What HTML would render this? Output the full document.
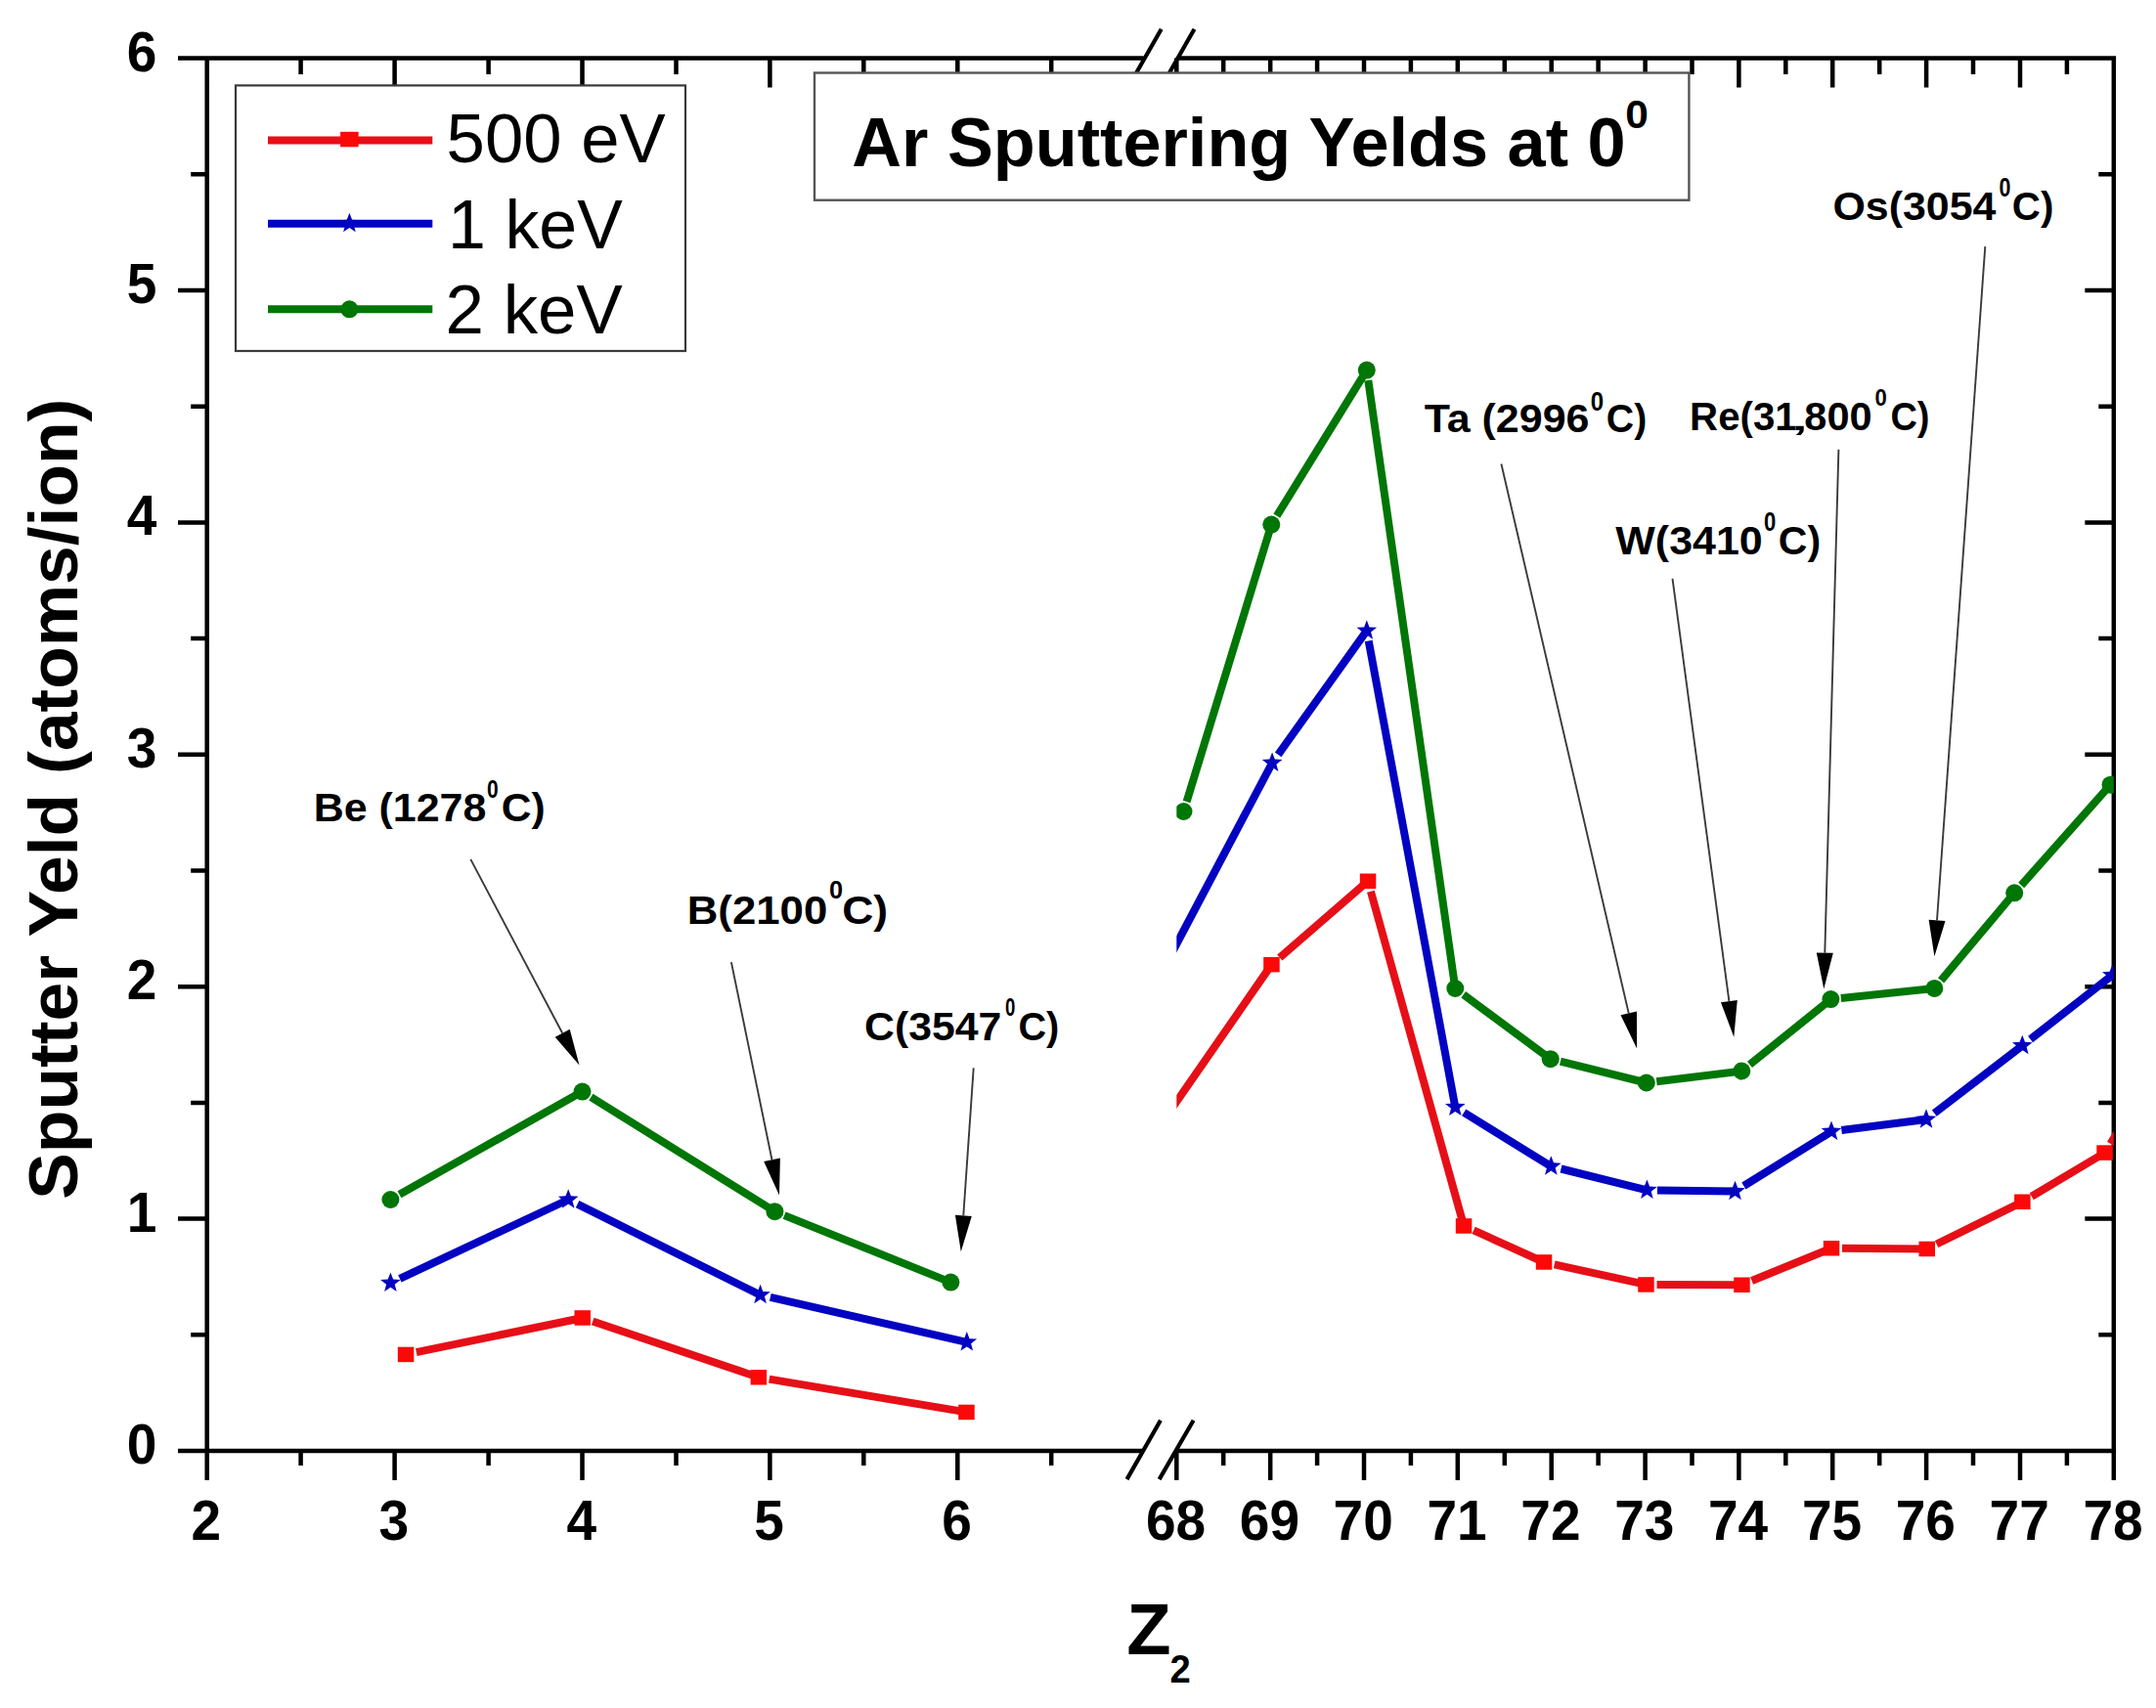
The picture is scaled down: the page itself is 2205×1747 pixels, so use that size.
<!DOCTYPE html><html><head><meta charset="utf-8"><title>Ar Sputtering Yields</title><style>html,body{margin:0;padding:0;background:#fff;overflow:hidden;}svg{display:block;}text{font-family:'Liberation Sans', Arial, sans-serif;}</style></head><body>
<svg width="2205" height="1747" viewBox="0 0 2205 1747">
<rect x="0" y="0" width="2205" height="1747" fill="#fff"/>
<path d="M182.0 1484.0H211.7 M2161.8 1484.0H2132.3 M195.2 1365.3H211.7 M2161.8 1365.3H2146.3 M182.0 1246.6H211.7 M2161.8 1246.6H2132.3 M195.2 1127.9H211.7 M2161.8 1127.9H2146.3 M182.0 1009.2H211.7 M2161.8 1009.2H2132.3 M195.2 890.5H211.7 M2161.8 890.5H2146.3 M182.0 771.8H211.7 M2161.8 771.8H2132.3 M195.2 653.1H211.7 M2161.8 653.1H2146.3 M182.0 534.4H211.7 M2161.8 534.4H2132.3 M195.2 415.7H211.7 M2161.8 415.7H2146.3 M182.0 297.0H211.7 M2161.8 297.0H2132.3 M195.2 178.3H211.7 M2161.8 178.3H2146.3 M182.0 59.6H211.7 M2161.8 59.6H2132.3 M211.7 1484.0V1514.0 M211.7 59.6V89.6 M307.6 1484.0V1499.0 M307.6 59.6V76.1 M403.6 1484.0V1514.0 M403.6 59.6V89.6 M499.6 1484.0V1499.0 M499.6 59.6V76.1 M595.5 1484.0V1514.0 M595.5 59.6V89.6 M691.5 1484.0V1499.0 M691.5 59.6V76.1 M787.4 1484.0V1514.0 M787.4 59.6V89.6 M883.3 1484.0V1499.0 M883.3 59.6V76.1 M979.3 1484.0V1514.0 M979.3 59.6V89.6 M1075.2 1484.0V1499.0 M1075.2 59.6V76.1 M1203.3 1484.0V1514.0 M1203.3 59.6V89.6 M1251.2 1484.0V1499.0 M1251.2 59.6V76.1 M1299.2 1484.0V1514.0 M1299.2 59.6V89.6 M1347.1 1484.0V1499.0 M1347.1 59.6V76.1 M1395.0 1484.0V1514.0 M1395.0 59.6V89.6 M1442.9 1484.0V1499.0 M1442.9 59.6V76.1 M1490.8 1484.0V1514.0 M1490.8 59.6V89.6 M1538.8 1484.0V1499.0 M1538.8 59.6V76.1 M1586.7 1484.0V1514.0 M1586.7 59.6V89.6 M1634.6 1484.0V1499.0 M1634.6 59.6V76.1 M1682.6 1484.0V1514.0 M1682.6 59.6V89.6 M1730.5 1484.0V1499.0 M1730.5 59.6V76.1 M1778.4 1484.0V1514.0 M1778.4 59.6V89.6 M1826.3 1484.0V1499.0 M1826.3 59.6V76.1 M1874.2 1484.0V1514.0 M1874.2 59.6V89.6 M1922.2 1484.0V1499.0 M1922.2 59.6V76.1 M1970.1 1484.0V1514.0 M1970.1 59.6V89.6 M2018.0 1484.0V1499.0 M2018.0 59.6V76.1 M2066.0 1484.0V1514.0 M2066.0 59.6V89.6 M2113.9 1484.0V1499.0 M2113.9 59.6V76.1 M2161.8 1484.0V1514.0 M2161.8 59.6V89.6 M211.7 57.4V1484.0 M2161.8 57.4V1514.0 M182.0 59.6H1169.5 M1204.5 59.6H2164.1 M182.0 1484.0H1169.5 M1204.5 1484.0H2164.1" stroke="#000" stroke-width="4.5" fill="none"/>
<path d="M1152.5 1513.1L1186.9 1452.7 M1185.6 1513.1L1220.6 1452.7 M1153.6 89.5L1187.7 29.7 M1187.4 89.5L1221.5 29.7" stroke="#000" stroke-width="4.2" fill="none"/>
<g font-size="57" font-weight="bold" fill="#000" stroke="#fff" stroke-width="0"><text transform="translate(160.3 1497.0) scale(0.965 1)" text-anchor="end">0</text><text transform="translate(160.3 1259.6) scale(0.965 1)" text-anchor="end">1</text><text transform="translate(160.3 1022.2) scale(0.965 1)" text-anchor="end">2</text><text transform="translate(160.3 784.8) scale(0.965 1)" text-anchor="end">3</text><text transform="translate(160.3 547.4) scale(0.965 1)" text-anchor="end">4</text><text transform="translate(160.3 310.0) scale(0.965 1)" text-anchor="end">5</text><text transform="translate(160.3 72.6) scale(0.965 1)" text-anchor="end">6</text><text transform="translate(210.9 1575.4) scale(0.965 1)" text-anchor="middle">2</text><text transform="translate(402.8 1575.4) scale(0.965 1)" text-anchor="middle">3</text><text transform="translate(594.7 1575.4) scale(0.965 1)" text-anchor="middle">4</text><text transform="translate(786.6 1575.4) scale(0.965 1)" text-anchor="middle">5</text><text transform="translate(978.5 1575.4) scale(0.965 1)" text-anchor="middle">6</text><text transform="translate(1202.5 1575.4) scale(0.965 1)" text-anchor="middle">68</text><text transform="translate(1298.4 1575.4) scale(0.965 1)" text-anchor="middle">69</text><text transform="translate(1394.2 1575.4) scale(0.965 1)" text-anchor="middle">70</text><text transform="translate(1490.0 1575.4) scale(0.965 1)" text-anchor="middle">71</text><text transform="translate(1585.9 1575.4) scale(0.965 1)" text-anchor="middle">72</text><text transform="translate(1681.8 1575.4) scale(0.965 1)" text-anchor="middle">73</text><text transform="translate(1777.6 1575.4) scale(0.965 1)" text-anchor="middle">74</text><text transform="translate(1873.5 1575.4) scale(0.965 1)" text-anchor="middle">75</text><text transform="translate(1969.3 1575.4) scale(0.965 1)" text-anchor="middle">76</text><text transform="translate(2065.2 1575.4) scale(0.965 1)" text-anchor="middle">77</text><text transform="translate(2161.0 1575.4) scale(0.965 1)" text-anchor="middle">78</text></g>
<text transform="translate(78.5 1226.74) rotate(-90) scale(1.0193 1)" font-size="70" font-weight="bold" fill="#000" stroke="#fff" stroke-width="0">Sputter Yeld (atoms/ion)</text>
<g fill="#000" stroke="#fff" stroke-width="0"><text transform="translate(1152.21 1691.80) scale(1.0462 1.0490)" font-size="71" font-weight="bold" stroke="none">Z</text><text transform="translate(1196.42 1720.60) scale(0.9789 1.0296)" font-size="39" font-weight="bold" stroke="none">2</text></g>
<rect x="833" y="74.5" width="894.4" height="130.2" fill="#fff" stroke="#555" stroke-width="2.4"/>
<g fill="#000" stroke="#fff" stroke-width="0"><text transform="translate(871.29 169.50) scale(1.0042 1)" font-size="70" font-weight="bold">Ar Sputtering Yelds at 0</text><text transform="translate(1662.21 131.00) scale(1.1471 1.1077)" font-size="37" font-weight="bold" stroke="none">0</text></g>
<rect x="241" y="87.4" width="460" height="271.6" fill="#fff" stroke="#3a3a3a" stroke-width="2.2"/>
<path d="M274 143.4H442.3" stroke="#e60f17" stroke-width="8"/>
<rect x="348.1" y="134.8" width="18.5" height="15.5" fill="#fb0808"/>
<path d="M274 228.8H442.3" stroke="#0303c2" stroke-width="8"/>
<polygon points="357.4,217.7 360.1,224.8 367.7,225.2 361.7,229.9 363.7,237.2 357.4,233.0 351.1,237.2 353.1,229.9 347.1,225.2 354.7,224.8" fill="#0303c2"/>
<path d="M274 316.3H442.3" stroke="#007606" stroke-width="8"/>
<circle cx="357.4" cy="316.3" r="9" fill="#007606"/>
<g fill="#000" stroke="#fff" stroke-width="0"><text transform="translate(456.57 166.20) scale(1.0106 1)" font-size="70">500 eV</text><text transform="translate(458.11 254.40) scale(0.9983 1)" font-size="70">1 keV</text><text transform="translate(455.55 341.30) scale(1.0126 1)" font-size="70">2 keV</text></g>
<defs><clipPath id="pc"><rect x="1203.3" y="0" width="958.5" height="1484"/></clipPath></defs>
<path d="M425.8 1383.2L595.8 1348.0 M606.2 1351.5L775.9 1408.8 M786.7 1410.6L988.5 1444.4" stroke="#e60f17" stroke-width="8" fill="none"/>
<path d="M408.9 1307.8L581.2 1227.0 M590.6 1231.7L777.6 1324.6 M787.8 1326.9L988.8 1372.9" stroke="#0303c2" stroke-width="8" fill="none"/>
<path d="M408.5 1221.8L595.5 1116.6 M604.4 1122.1L792.4 1239.2 M802.1 1243.1L972.4 1311.6" stroke="#007606" stroke-width="8" fill="none"/>
<g clip-path="url(#pc)">
<path d="M1190.0 1146.0L1300.5 986.6 M1308.8 979.4L1399.0 901.2 M1401.9 911.8L1497.1 1253.9 M1507.1 1258.4L1579.0 1291.0 M1589.7 1293.4L1683.5 1313.9 M1694.5 1313.9L1781.4 1314.2 M1791.6 1310.0L1873.0 1276.7 M1884.0 1276.8L1970.7 1277.4 M1980.6 1272.5L2068.3 1229.3 M2077.8 1223.7L2152.6 1179.1 M2158.4 1169.8L2175.0 1143.0" stroke="#e60f17" stroke-width="8" fill="none"/>
<path d="M1192.0 987.0L1301.1 780.3 M1307.2 771.8L1397.8 645.1 M1399.7 655.4L1488.3 1132.4 M1497.2 1137.9L1586.3 1193.0 M1596.5 1195.5L1684.4 1217.3 M1694.9 1217.4L1774.5 1218.5 M1783.4 1213.0L1873.0 1157.3 M1883.4 1156.0L1970.0 1145.0 M1978.3 1138.6L2068.3 1069.5 M2076.6 1063.0L2160.3 997.5" stroke="#0303c2" stroke-width="8" fill="none"/>
<path d="M1213.6 820.0L1300.3 536.6 M1305.8 527.7L1397.8 378.6 M1399.3 389.0L1488.3 1011.0 M1496.7 1017.3L1585.7 1083.2 M1595.9 1085.7L1683.8 1107.5 M1694.2 1106.2L1781.3 1095.5 M1789.5 1088.9L1872.4 1022.1 M1882.8 1021.0L1978.4 1010.9 M1985.1 1002.9L2060.2 913.3 M2067.2 905.5L2158.5 802.7" stroke="#007606" stroke-width="8" fill="none"/>
</g>
<rect x="406.8" y="1377.7" width="16.5" height="15.5" fill="#fb0808"/><rect x="587.5" y="1340.2" width="16.5" height="15.5" fill="#fb0808"/><rect x="767.6" y="1401.0" width="16.5" height="15.5" fill="#fb0808"/><rect x="980.2" y="1436.7" width="16.5" height="15.5" fill="#fb0808"/><polygon points="399.4,1301.5 402.1,1308.6 409.7,1309.0 403.7,1313.7 405.7,1321.0 399.4,1316.8 393.1,1321.0 395.1,1313.7 389.1,1309.0 396.7,1308.6" fill="#0303c2"/><polygon points="581.2,1216.2 583.9,1223.3 591.5,1223.7 585.5,1228.4 587.5,1235.7 581.2,1231.5 574.9,1235.7 576.9,1228.4 570.9,1223.7 578.5,1223.3" fill="#0303c2"/><polygon points="777.6,1313.8 780.3,1320.9 787.9,1321.3 781.9,1326.0 783.9,1333.3 777.6,1329.1 771.3,1333.3 773.3,1326.0 767.3,1321.3 774.9,1320.9" fill="#0303c2"/><polygon points="988.8,1362.1 991.5,1369.2 999.1,1369.6 993.1,1374.3 995.1,1381.6 988.8,1377.4 982.5,1381.6 984.5,1374.3 978.5,1369.6 986.1,1369.2" fill="#0303c2"/><circle cx="399.4" cy="1227.0" r="9" fill="#007606"/><circle cx="595.5" cy="1116.6" r="9" fill="#007606"/><circle cx="792.4" cy="1239.2" r="9" fill="#007606"/><circle cx="972.4" cy="1311.6" r="9" fill="#007606"/>
<g clip-path="url(#pc)"><rect x="1292.2" y="978.9" width="16.5" height="15.5" fill="#fb0808"/><rect x="1390.8" y="893.5" width="16.5" height="15.5" fill="#fb0808"/><rect x="1488.8" y="1246.2" width="16.5" height="15.5" fill="#fb0808"/><rect x="1570.8" y="1283.2" width="16.5" height="15.5" fill="#fb0808"/><rect x="1675.2" y="1306.2" width="16.5" height="15.5" fill="#fb0808"/><rect x="1773.2" y="1306.5" width="16.5" height="15.5" fill="#fb0808"/><rect x="1864.8" y="1269.0" width="16.5" height="15.5" fill="#fb0808"/><rect x="1962.5" y="1269.7" width="16.5" height="15.5" fill="#fb0808"/><rect x="2060.1" y="1221.5" width="16.5" height="15.5" fill="#fb0808"/><rect x="2144.3" y="1171.3" width="16.5" height="15.5" fill="#fb0808"/><polygon points="1301.1,769.5 1303.8,776.6 1311.4,777.0 1305.4,781.7 1307.4,789.0 1301.1,784.8 1294.8,789.0 1296.8,781.7 1290.8,777.0 1298.4,776.6" fill="#0303c2"/><polygon points="1397.8,634.3 1400.5,641.4 1408.1,641.8 1402.1,646.5 1404.1,653.8 1397.8,649.6 1391.5,653.8 1393.5,646.5 1387.5,641.8 1395.1,641.4" fill="#0303c2"/><polygon points="1488.3,1121.6 1491.0,1128.7 1498.6,1129.1 1492.6,1133.8 1494.6,1141.1 1488.3,1136.9 1482.0,1141.1 1484.0,1133.8 1478.0,1129.1 1485.6,1128.7" fill="#0303c2"/><polygon points="1586.3,1182.2 1589.0,1189.3 1596.6,1189.7 1590.6,1194.4 1592.6,1201.7 1586.3,1197.5 1580.0,1201.7 1582.0,1194.4 1576.0,1189.7 1583.6,1189.3" fill="#0303c2"/><polygon points="1684.4,1206.5 1687.1,1213.6 1694.7,1214.0 1688.7,1218.7 1690.7,1226.0 1684.4,1221.8 1678.1,1226.0 1680.1,1218.7 1674.1,1214.0 1681.7,1213.6" fill="#0303c2"/><polygon points="1774.5,1207.7 1777.2,1214.8 1784.8,1215.2 1778.8,1219.9 1780.8,1227.2 1774.5,1223.0 1768.2,1227.2 1770.2,1219.9 1764.2,1215.2 1771.8,1214.8" fill="#0303c2"/><polygon points="1873.0,1146.5 1875.7,1153.6 1883.3,1154.0 1877.3,1158.7 1879.3,1166.0 1873.0,1161.8 1866.7,1166.0 1868.7,1158.7 1862.7,1154.0 1870.3,1153.6" fill="#0303c2"/><polygon points="1970.0,1134.2 1972.7,1141.3 1980.3,1141.7 1974.3,1146.4 1976.3,1153.7 1970.0,1149.5 1963.7,1153.7 1965.7,1146.4 1959.7,1141.7 1967.3,1141.3" fill="#0303c2"/><polygon points="2068.3,1058.7 2071.0,1065.8 2078.6,1066.2 2072.6,1070.9 2074.6,1078.2 2068.3,1074.0 2062.0,1078.2 2064.0,1070.9 2058.0,1066.2 2065.6,1065.8" fill="#0303c2"/><polygon points="2160.3,986.7 2163.0,993.8 2170.6,994.2 2164.6,998.9 2166.6,1006.2 2160.3,1002.0 2154.0,1006.2 2156.0,998.9 2150.0,994.2 2157.6,993.8" fill="#0303c2"/><circle cx="1210.5" cy="830.0" r="9" fill="#007606"/><circle cx="1300.3" cy="536.6" r="9" fill="#007606"/><circle cx="1397.8" cy="378.6" r="9" fill="#007606"/><circle cx="1488.3" cy="1011.0" r="9" fill="#007606"/><circle cx="1585.7" cy="1083.2" r="9" fill="#007606"/><circle cx="1683.8" cy="1107.5" r="9" fill="#007606"/><circle cx="1781.3" cy="1095.5" r="9" fill="#007606"/><circle cx="1872.4" cy="1022.1" r="9" fill="#007606"/><circle cx="1978.4" cy="1010.9" r="9" fill="#007606"/><circle cx="2060.2" cy="913.3" r="9" fill="#007606"/><circle cx="2158.5" cy="802.7" r="9" fill="#007606"/></g>
<path d="M481.3 878.9L575.2 1056.8" stroke="#3a3a3a" stroke-width="1.9"/><polygon points="592.5,1089.5 567.7,1060.7 582.7,1052.8" fill="#000"/><path d="M747.9 984.1L789.5 1186.2" stroke="#3a3a3a" stroke-width="1.9"/><polygon points="797.0,1222.4 781.2,1187.9 797.9,1184.4" fill="#000"/><path d="M995.7 1092.4L985.3 1243.3" stroke="#3a3a3a" stroke-width="1.9"/><polygon points="982.8,1280.2 976.9,1242.7 993.8,1243.9" fill="#000"/><path d="M1535.4 474.5L1665.7 1036.4" stroke="#3a3a3a" stroke-width="1.9"/><polygon points="1674.1,1072.4 1657.5,1038.3 1674.0,1034.4" fill="#000"/><path d="M1710.5 591.9L1768.4 1024.0" stroke="#3a3a3a" stroke-width="1.9"/><polygon points="1773.3,1060.7 1760.0,1025.2 1776.8,1022.9" fill="#000"/><path d="M1880.4 459.7L1866.3 974.6" stroke="#3a3a3a" stroke-width="1.9"/><polygon points="1865.3,1011.6 1857.8,974.4 1874.8,974.8" fill="#000"/><path d="M2030.3 252.1L1981.0 941.3" stroke="#3a3a3a" stroke-width="1.9"/><polygon points="1978.4,978.2 1972.6,940.7 1989.5,941.9" fill="#000"/>
<g fill="#000" stroke="#fff" stroke-width="0"><text transform="translate(320.68 840.30) scale(1.0737 1)" font-size="40" font-weight="bold">Be (1278</text><text transform="translate(497.89 815.60) scale(0.8083 0.9722)" font-size="26" font-weight="bold" stroke="none">0</text><text transform="translate(512.87 840.30) scale(1.0632 1)" font-size="40" font-weight="bold">C)</text><text transform="translate(702.72 944.60) scale(1.0945 1)" font-size="40" font-weight="bold">B(2100</text><text transform="translate(848.12 919.10) scale(0.9750 0.9944)" font-size="26" font-weight="bold" stroke="none">0</text><text transform="translate(861.17 944.60) scale(1.1132 1)" font-size="40" font-weight="bold">C)</text><text transform="translate(884.06 1064.10) scale(1.0685 1)" font-size="40" font-weight="bold">C(3547</text><text transform="translate(1027.88 1038.60) scale(0.7167 0.9667)" font-size="26" font-weight="bold" stroke="none">0</text><text transform="translate(1041.42 1064.10) scale(0.9921 1)" font-size="40" font-weight="bold">C)</text><text transform="translate(1456.70 442.30) scale(1.0737 1)" font-size="40" font-weight="bold">Ta (2996</text><text transform="translate(1626.67 419.50) scale(0.9250 1.0944)" font-size="26" font-weight="bold" stroke="none">0</text><text transform="translate(1642.84 442.30) scale(0.9816 1)" font-size="40" font-weight="bold">C)</text><text transform="translate(1728.08 440.10) scale(1.0067 1)" font-size="40" font-weight="bold">Re(31</text><text transform="translate(1829.00 440.10) scale(2.1000 1)" font-size="40">,</text><text transform="translate(1845.36 440.10) scale(1.0375 1)" font-size="40" font-weight="bold">800</text><text transform="translate(1917.55 414.70) scale(0.8500 0.9389)" font-size="26" font-weight="bold" stroke="none">0</text><text transform="translate(1933.40 440.10) scale(0.9500 1)" font-size="40" font-weight="bold">C)</text><text transform="translate(1652.30 567.30) scale(1.0739 1)" font-size="40" font-weight="bold">W(3410</text><text transform="translate(1803.95 543.30) scale(0.8500 1.0667)" font-size="26" font-weight="bold" stroke="none">0</text><text transform="translate(1818.75 567.30) scale(1.0263 1)" font-size="40" font-weight="bold">C)</text><text transform="translate(1874.45 224.50) scale(1.0727 1)" font-size="40" font-weight="bold">Os(3054</text><text transform="translate(2044.47 200.70) scale(0.8250 1.0944)" font-size="26" font-weight="bold" stroke="none">0</text><text transform="translate(2057.78 224.50) scale(1.0079 1)" font-size="40" font-weight="bold">C)</text></g>
</svg></body></html>
